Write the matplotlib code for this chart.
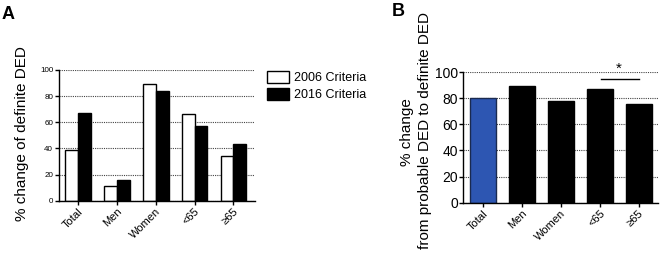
import matplotlib
matplotlib.use('Agg')
import matplotlib.pyplot as plt
from matplotlib.patches import Patch
import numpy as np

plt.rcParams['font.family'] = ['Liberation Sans', 'DejaVu Sans']

groups = ['Total', 'Men', 'Women', '<65', '≥65']
crit_2006 = [39, 11, 89, 66, 34]
crit_2016 = [67, 16, 84, 57, 43]
change_b = [80, 89.5, 77.5, 87, 75.5]
bar_colors_b = ['#2D56B2', 'black', 'black', 'black', 'black']
edge_colors_b = ['#1a2a50', 'black', 'black', 'black', 'black']
yticks = [0, 20, 40, 60, 80, 100]


def style_axes(ax, ytick_size):
    for s in ['top', 'right']:
        ax.spines[s].set_visible(False)
    for s in ['left', 'bottom']:
        ax.spines[s].set_linewidth(1.0)
    ax.set_ylim(0, 100)
    ax.set_yticks(yticks)
    ax.tick_params(axis='y', labelsize=ytick_size, length=3, width=1, pad=1)
    ax.tick_params(axis='x', labelsize=8, length=3, width=1, pad=1)
    ax.yaxis.grid(True, linestyle=(0, (1, 1)), color='#444444', linewidth=0.8)
    ax.set_axisbelow(True)
    ax.set_xticks(range(len(groups)))
    ax.set_xticklabels(groups, rotation=45, ha='right', rotation_mode='anchor')


fig = plt.figure(figsize=(6.6, 2.59), dpi=100)

# panel A
axA = fig.add_axes([0.089, 0.225, 0.297, 0.505])
x = np.arange(len(groups))
w = 0.33
axA.bar(x - w / 2, crit_2006, w, color='white', edgecolor='black', linewidth=1)
axA.bar(x + w / 2, crit_2016, w, color='black', edgecolor='black', linewidth=1)
style_axes(axA, 5.8)
axA.set_xlim(-0.5, 4.55)
handles = [Patch(facecolor='white', edgecolor='black', label='2006 Criteria'),
           Patch(facecolor='black', edgecolor='black', label='2016 Criteria')]
fig.legend(handles=handles, loc='upper left', bbox_to_anchor=(0.404, 0.725),
           frameon=False, fontsize=9, handlelength=1.8, handleheight=1.1,
           handletextpad=0.35, labelspacing=0.3, borderaxespad=0, borderpad=0)
fig.text(22 / 660, 0.483, '% change of definite DED', rotation=90,
         ha='center', va='center', fontsize=11)
fig.text(0.002, 0.975, 'A', fontsize=13, fontweight='bold', ha='left', va='top')

# panel B
axB = fig.add_axes([0.702, 0.217, 0.295, 0.505])
axB.bar(x, change_b, 0.67, color=bar_colors_b, edgecolor=edge_colors_b, linewidth=1)
style_axes(axB, 10)
axB.set_xlim(-0.5, 4.5)
axB.plot([3.03, 4.0], [94.6, 94.6], color='black', linewidth=1, clip_on=False)
axB.text(3.5, 97, '*', ha='center', va='bottom', fontsize=11, clip_on=False)
fig.text(407 / 660, 0.49, '% change', rotation=90,
         ha='center', va='center', fontsize=11)
fig.text(425 / 660, 0.495, 'from probable DED to definite DED', rotation=90,
         ha='center', va='center', fontsize=11)
fig.text(392 / 660, 0.99, 'B', fontsize=13, fontweight='bold', ha='left', va='top')

fig.savefig('out.png', dpi=100)
